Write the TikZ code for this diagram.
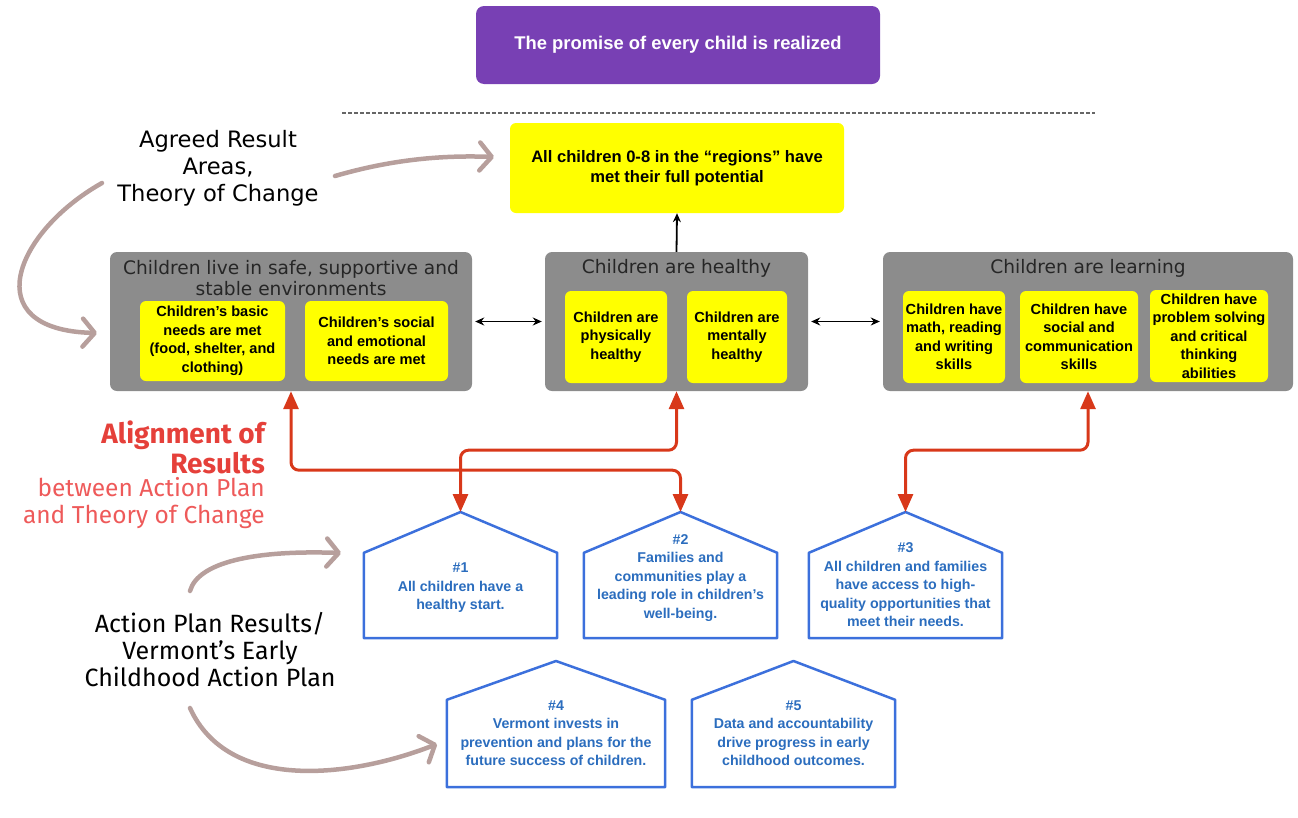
\documentclass[tikz,border=0pt]{standalone}
\usepackage{fontspec}
\setmainfont{Liberation Sans}
\newfontfamily\titlefont{DejaVu Sans}
\newfontfamily\narrowfont{Fira Sans}
\usetikzlibrary{arrows.meta}
\definecolor{promisepurple}{HTML}{7840B4}
\definecolor{boxgray}{HTML}{8C8C8C}
\definecolor{resultyellow}{HTML}{FFFF00}
\definecolor{alignred}{HTML}{D8381A}
\definecolor{houseblue}{HTML}{3C70DC}
\definecolor{housetext}{HTML}{2B6DBE}
\definecolor{notebrown}{HTML}{B79F9C}
\definecolor{headred}{HTML}{E5403A}
\definecolor{subred}{HTML}{EE5A5A}

\begin{document}
\begin{tikzpicture}[x=1pt,y=-1pt,
	graybox/.style={fill=boxgray, rounded corners=7pt, inner sep=0pt},
	grayhead/.style={font=\titlefont\fontsize{18.6}{21}\selectfont, text=black!85, align=center, inner sep=0pt},
	ybox/.style={fill=resultyellow, rounded corners=6pt, inner sep=0pt, align=center,
		font=\fontsize{14.6}{18.5}\selectfont\bfseries},
	hbody/.style={inner sep=0pt, minimum width=#1},
	hline/.style={draw=houseblue, line width=2.5pt, fill=white, line join=round},
	htext/.style={text=housetext, align=center, inner sep=0pt, font=\fontsize{14.2}{18.5}\selectfont\bfseries},
	link/.style={line width=1.8pt, shorten <=3pt, shorten >=3pt},
	alignline/.style={draw=alignred, line width=3pt, rounded corners=8pt,
		{Triangle[length=18pt,width=15pt]}-{Triangle[length=18pt,width=15pt]}},
	noteline/.style={draw=notebrown, line width=4.5pt, line cap=round,
		-{Straight Barb[length=12pt,width=28pt,round]}},
	note/.style={font=\titlefont\fontsize{22.6}{27}\selectfont, align=center, inner sep=0pt}]
	\useasboundingbox (0,0) rectangle (1298,817);

	% top of the chain
	\node[fill=promisepurple, rounded corners=8pt, minimum width=404pt, minimum height=78pt,
		text=white, font=\fontsize{18.4}{20}\selectfont\bfseries] (promise) at (678,45) {The promise of every child is realized};
	\draw[black!60, line width=1.2pt, dash pattern=on 3.5pt off 2.5pt] (342,113) -- (1095,113);
	\node[ybox, minimum width=334pt, minimum height=90pt, font=\fontsize{16.6}{19.5}\selectfont\bfseries] (goal) at (677,168)
		{All children 0-8 in the “regions” have\\met their full potential};

	% result areas
	\node[graybox, minimum width=362pt, minimum height=139pt] (g1) at (291,321.5) {};
	\node[grayhead] (g1t) at (291,278.5) {Children live in safe, supportive and\\stable environments};
	\node[ybox, minimum width=145pt, minimum height=80pt] (y11) at (212.5,341) {Children’s basic\\needs are met\\(food, shelter, and\\clothing)};
	\node[ybox, minimum width=143pt, minimum height=80pt] (y12) at (376.5,341) {Children’s social\\and emotional\\needs are met};

	\node[graybox, minimum width=263pt, minimum height=139pt] (g2) at (676.5,321.5) {};
	\node[grayhead] (g2t) at (676.5,268) {Children are healthy};
	\node[ybox, minimum width=102pt, minimum height=92pt] (y21) at (616,337) {Children are\\physically\\healthy};
	\node[ybox, minimum width=100pt, minimum height=92pt] (y22) at (737,337) {Children are\\mentally\\healthy};

	\node[graybox, minimum width=410pt, minimum height=139pt] (g3) at (1088,321.5) {};
	\node[grayhead] (g3t) at (1088,268) {Children are learning};
	\node[ybox, minimum width=102pt, minimum height=92pt] (y31) at (954,337) {Children have\\math, reading\\and writing\\skills};
	\node[ybox, minimum width=118pt, minimum height=92pt] (y32) at (1079,337) {Children have\\social and\\communication\\skills};
	\node[ybox, minimum width=118pt, minimum height=92pt] (y33) at (1209,336) {Children have\\problem solving\\and critical\\thinking\\abilities};

	\draw[link, -{Stealth[length=9pt,width=8pt]}, shorten <=0pt, shorten >=0pt] (g2.north) -- (goal.south);
	\draw[link, {Stealth[length=9pt,width=8pt]}-{Stealth[length=9pt,width=8pt]}] (g1) -- (g2);
	\draw[link, {Stealth[length=9pt,width=8pt]}-{Stealth[length=9pt,width=8pt]}] (g2) -- (g3);

	% action plan houses
	\node[hbody=193pt, minimum height=85pt] (h1) at (460.5,595.5) {};
	\coordinate (r1) at (460.5,512);
	\node[hbody=193pt, minimum height=85pt] (h2) at (680.5,595.5) {};
	\coordinate (r2) at (680.5,512);
	\node[hbody=193pt, minimum height=85pt] (h3) at (905.5,595.5) {};
	\coordinate (r3) at (905.5,512);
	\node[hbody=218pt, minimum height=87pt] (h4) at (556,743.5) {};
	\coordinate (r4) at (556,661);
	\node[hbody=203pt, minimum height=87pt] (h5) at (793.5,743.5) {};
	\coordinate (r5) at (793.5,661);
	\foreach \h in {1,...,5}
		\draw[hline] (h\h.south west) -- (h\h.north west) -- (r\h) -- (h\h.north east) -- (h\h.south east) -- cycle;

	\node[htext] (t1) at (460.5,588) {\#1\\All children have a\\healthy start.};
	\node[htext] (t2) at (680.5,578) {\#2\\Families and\\communities play a\\leading role in children’s\\well-being.};
	\node[htext] (t3) at (905.5,585) {\#3\\All children and families\\have access to high-\\quality opportunities that\\meet their needs.};
	\node[htext] (t4) at (556,733) {\#4\\Vermont invests in\\prevention and plans for the\\future success of children.};
	\node[htext] (t5) at (793.5,733) {\#5\\Data and accountability\\drive progress in early\\childhood outcomes.};

	% alignment between the two plans
	\draw[alignline] (g1.south) -- ++(0,79) -| (r2);
	\draw[alignline] (g2.south) -- ++(0,59) -| (r1);
	\draw[alignline] (g3.south) -- ++(0,59) -| (r3);

	% side notes
	\node[note] (agreed) at (218,168) {Agreed Result\\Areas,\\Theory of Change};
	\node[anchor=east, align=right, inner sep=0pt, text=headred,
		font=\narrowfont\bfseries\fontsize{28}{30}\selectfont] (alignhead) at (265,447) {Alignment of\\Results};
	\node[anchor=east, align=right, inner sep=0pt, text=subred,
		font=\narrowfont\fontsize{24.5}{27}\selectfont] (alignsub) at (265,503.5) {between Action Plan\\and Theory of Change};
	\node[note, font=\narrowfont\fontsize{25}{27}\selectfont] (actionplan) at (210,649.5) {Action Plan Results/\\Vermont’s Early\\Childhood Action Plan};

	\coordinate (n1s) at (335,176);
	\coordinate (n1e) at (494,157);
	\coordinate (n2s) at (102,183);
	\coordinate (n2e) at (97,333);
	\coordinate (n3s) at (190,591);
	\coordinate (n3e) at (341,553);
	\coordinate (n4s) at (190,708);
	\coordinate (n4e) at (437,744);
	\draw[noteline] (n1s) .. controls (390,160) and (440,155) .. (n1e);
	\draw[noteline] (n2s) .. controls (15,232) and (-25,330) .. (n2e);
	\draw[noteline] (n3s) .. controls (198,562) and (255,550) .. (n3e);
	\draw[noteline] (n4s) .. controls (228,792) and (350,778) .. (n4e);
\end{tikzpicture}
\end{document}
